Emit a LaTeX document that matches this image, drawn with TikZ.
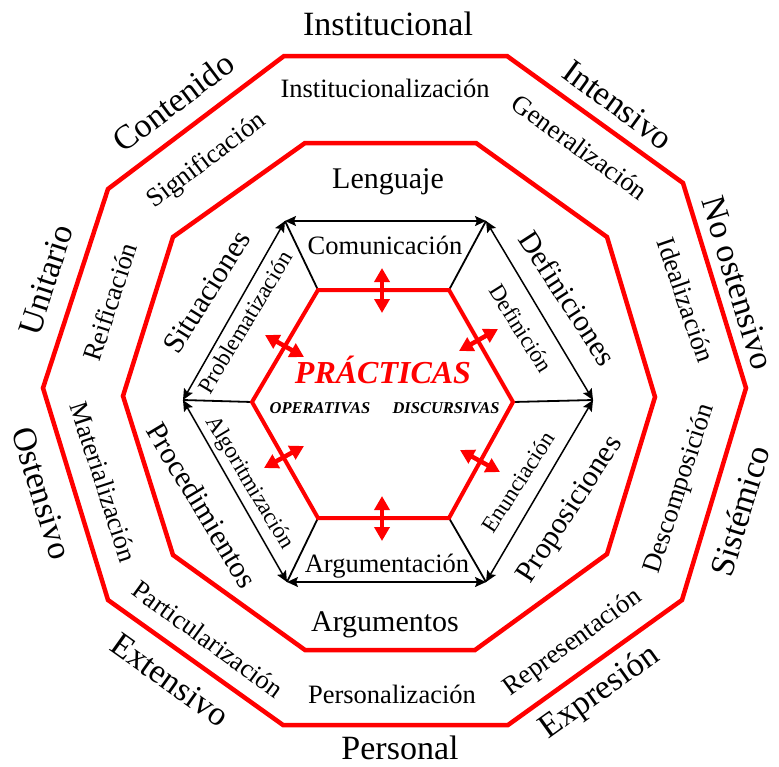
\documentclass[tikz,border=0pt]{standalone}
\usepackage{fontspec}
\setmainfont{Liberation Serif}
\usetikzlibrary{arrows.meta}

\begin{document}
\begin{tikzpicture}[x=1pt,y=-1pt,
  ring/.style={draw=red, line width=4.5pt},
  core/.style={draw=red, line width=4pt},
  link/.style={draw=black, line width=1.5pt,
    {Stealth[length=11pt,width=10pt,inset=2pt]}-{Stealth[length=11pt,width=10pt,inset=2pt]}},
  spoke/.style={draw=black, line width=1.8pt},
  flow/.style={draw=red, line width=4.5pt,
    {Triangle[length=14pt,width=15pt]}-{Triangle[length=14pt,width=15pt]}},
  lbl/.style={inner sep=0pt},
  outer/.style={lbl, font=\fontsize{34}{34}\selectfont},
  ringtxt/.style={lbl, font=\fontsize{26.5}{26.5}\selectfont},
  inner/.style={lbl, font=\fontsize{30}{30}\selectfont},
  edge/.style={lbl, font=\fontsize{26.5}{26.5}\selectfont},
  sedge/.style={lbl, font=\fontsize{23}{23}\selectfont},
  kind/.style={lbl, font=\fontsize{16.5}{16.5}\selectfont\bfseries\itshape}
]
\useasboundingbox (0,0) rectangle (779,766);

% outer decagon
\coordinate (o1) at (284,56);  \coordinate (o2) at (507,56);
\coordinate (o3) at (683,183); \coordinate (o4) at (746,388);
\coordinate (o5) at (682,600); \coordinate (o6) at (508,725);
\coordinate (o7) at (283,725); \coordinate (o8) at (108,600);
\coordinate (o9) at (43,388);  \coordinate (o10) at (108,189);
% middle decagon
\coordinate (m1) at (305,143); \coordinate (m2) at (476,143);
\coordinate (m3) at (607,237); \coordinate (m4) at (655,397);
\coordinate (m5) at (607,554); \coordinate (m6) at (475,650);
\coordinate (m7) at (305,650); \coordinate (m8) at (173,555);
\coordinate (m9) at (123,396); \coordinate (m10) at (173,237);
% black hexagon
\coordinate (h1) at (285,221); \coordinate (h2) at (486,221);
\coordinate (h3) at (593,400); \coordinate (h4) at (486,582);
\coordinate (h5) at (287,582); \coordinate (h6) at (183,400);
% red hexagon
\coordinate (r1) at (318,290); \coordinate (r2) at (449,290);
\coordinate (r3) at (513,402); \coordinate (r4) at (449,518);
\coordinate (r5) at (318,518); \coordinate (r6) at (252,402);

\draw[ring] (o1) -- (o2) -- (o3) -- (o4) -- (o5) -- (o6) -- (o7) -- (o8) -- (o9) -- (o10) -- cycle;
\draw[ring] (m1) -- (m2) -- (m3) -- (m4) -- (m5) -- (m6) -- (m7) -- (m8) -- (m9) -- (m10) -- cycle;

% spokes from the practices to the objects
\draw[spoke] (r1) -- (h1);
\draw[spoke] (r2) -- (h2);
\draw[spoke] (r3) -- (h3);
\draw[spoke] (r4) -- (h4);
\draw[spoke] (r5) -- (h5);
\draw[spoke] (r6) -- (h6);

% processes between the objects
\draw[link] (h1) -- (h2);
\draw[link] (h2) -- (h3);
\draw[link] (h3) -- (h4);
\draw[link] (h5) -- (h4);
\draw[link] (h6) -- (h5);
\draw[link] (h6) -- (h1);

\draw[core, line join=miter] (r1) -- (r2) -- (r3) -- (r4) -- (r5) -- (r6) -- cycle;

% red double arrows across the practices
\coordinate (fa1) at (382,268); \coordinate (fb1) at (382,313);
\coordinate (fa2) at (382,496); \coordinate (fb2) at (382,541);
\coordinate (fa3) at (265,335); \coordinate (fb3) at (304,357);
\coordinate (fa4) at (459,351); \coordinate (fb4) at (498,329);
\coordinate (fa5) at (264,468); \coordinate (fb5) at (304,446);
\coordinate (fa6) at (460,450); \coordinate (fb6) at (500,472);
\draw[flow] (fa1) -- (fb1);
\draw[flow] (fa2) -- (fb2);
\draw[flow] (fa3) -- (fb3);
\draw[flow] (fa4) -- (fb4);
\draw[flow] (fa5) -- (fb5);
\draw[flow] (fa6) -- (fb6);

% outer labels
\node[outer, anchor=base] (tInst) at (388,35) {Institucional};
\node[outer, anchor=base] (tPers) at (400,759) {Personal};
\node[outer, rotate=37] (tCont) at (173,102) {Contenido};
\node[outer, rotate=-36] (tInte) at (618,105) {Intensivo};
\node[outer, rotate=-73] (tNoos) at (738,283) {No ostensivo};
\node[outer, rotate=72] (tUnit) at (46,280) {Unitario};
\node[outer, rotate=-73] (tOste) at (42,493) {Ostensivo};
\node[outer, rotate=-35.5] (tExte) at (170,680) {Extensivo};
\node[outer, rotate=35.6] (tExpr) at (600,693) {Expresión};
\node[outer, rotate=73] (tSist) at (740,511) {Sistémico};

% processes between the decagons
\node[ringtxt, anchor=base] (pInst) at (385,97) {Institucionalización};
\node[ringtxt, anchor=base] (pPers) at (392,703) {Personalización};
\node[ringtxt, rotate=37] (pSign) at (207,161) {Significación};
\node[ringtxt, rotate=-36] (pGene) at (580,147) {Generalización};
\node[ringtxt, rotate=-71] (pIdea) at (686,300) {Idealización};
\node[ringtxt, rotate=72] (pReif) at (110,302) {Reificación};
\node[ringtxt, rotate=-72] (pMate) at (104,482) {Materialización};
\node[ringtxt, rotate=-36] (pPart) at (208,639) {Particularización};
\node[ringtxt, rotate=36] (pRepr) at (573,643) {Representación};
\node[ringtxt, rotate=72] (pDesc) at (680,489) {Descomposición};

% primary objects
\node[inner, anchor=base] (oLeng) at (388,188) {Lenguaje};
\node[inner, anchor=base] (oArgu) at (385,631) {Argumentos};
\node[inner, rotate=58] (oSitu) at (207,292) {Situaciones};
\node[inner, rotate=-57] (oDefi) at (568,298) {Definiciones};
\node[inner, rotate=57] (oProp) at (571,510) {Proposiciones};
\node[inner, rotate=-59] (oProc) at (202,505) {Procedimientos};

% processes on the hexagon
\node[edge, anchor=base] (eComu) at (385,254) {Comunicación};
\node[edge, anchor=base] (eArgu) at (387,572) {Argumentación};
\node[sedge, rotate=59] (eProb) at (245,322) {Problematización};
\node[sedge, rotate=-58] (eDefi) at (521,328) {Definición};
\node[sedge, rotate=-59] (eAlgo) at (249,483) {Algoritmización};
\node[sedge, rotate=57] (eEnun) at (518,482) {Enunciación};

% practices
\node[lbl, anchor=base, text=red, font=\fontsize{32}{32}\selectfont\bfseries\itshape] (prac) at (383,383) {PRÁCTICAS};
\node[kind, anchor=base] (oper) at (320,413) {OPERATIVAS};
\node[kind, anchor=base] (disc) at (446,413) {DISCURSIVAS};
\end{tikzpicture}
\end{document}
